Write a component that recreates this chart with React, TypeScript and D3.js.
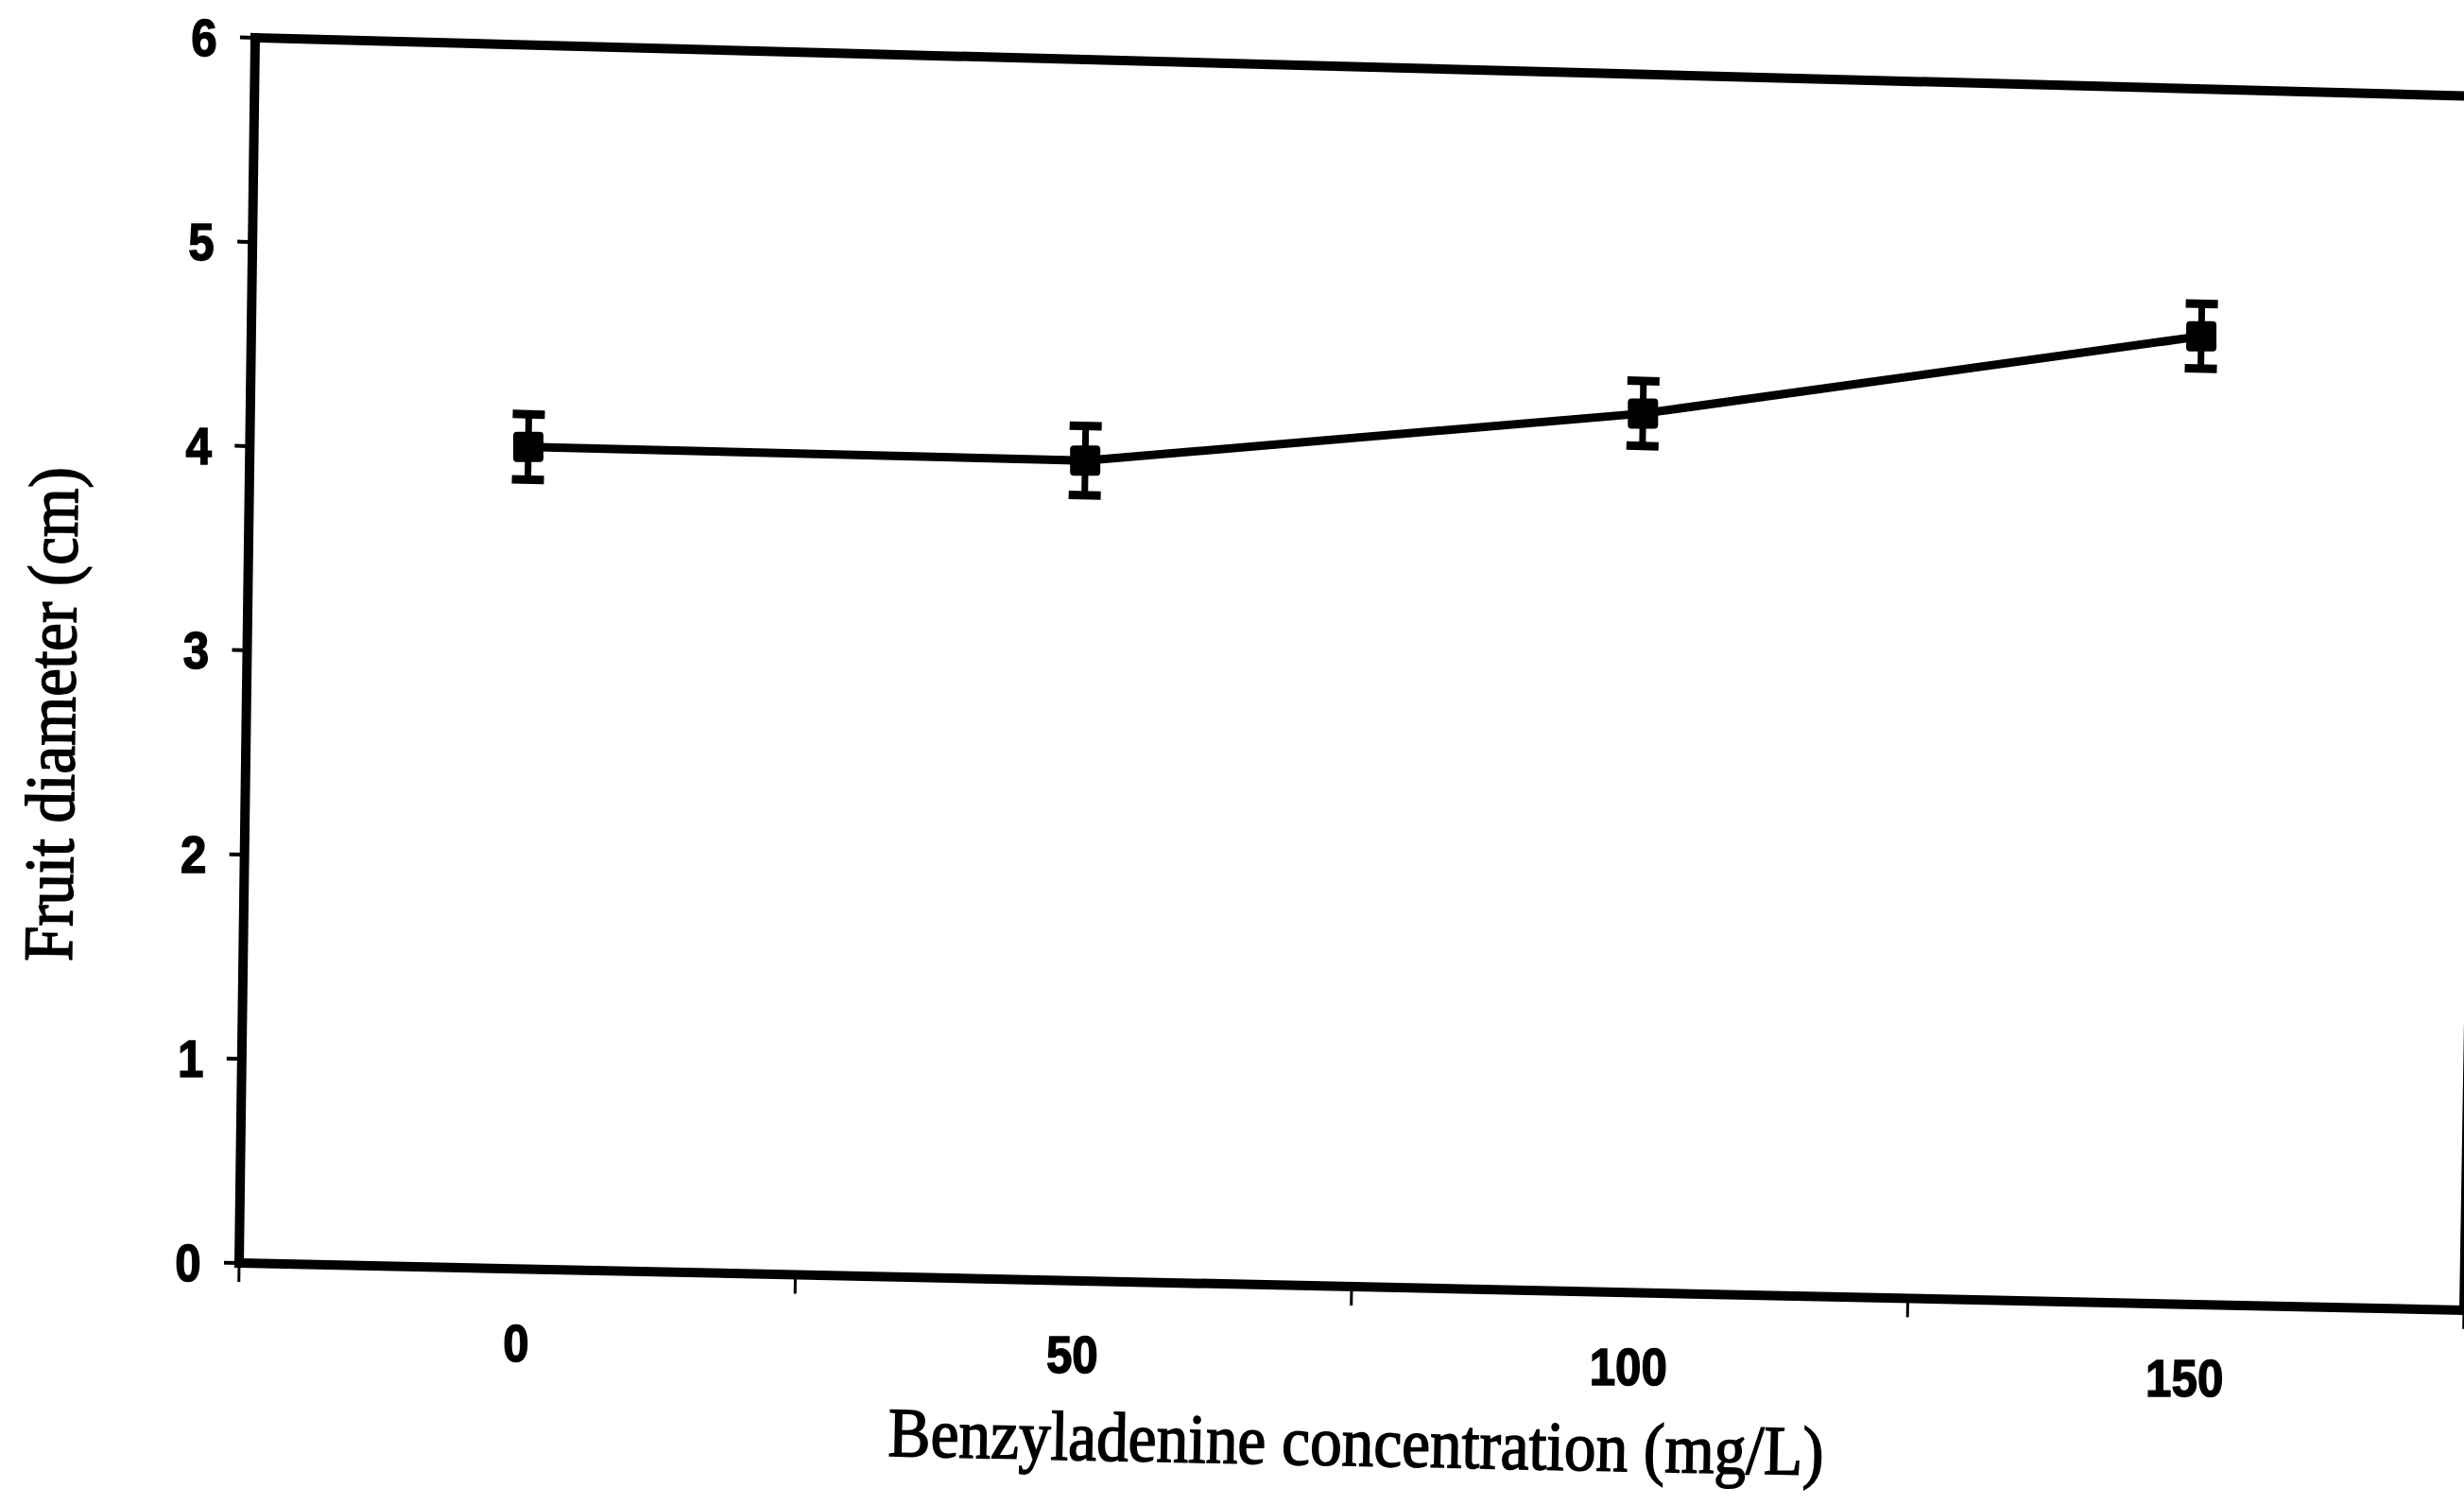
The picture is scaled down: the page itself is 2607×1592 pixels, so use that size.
import React from "react";
import * as d3 from "d3";

const categories = ["0", "50", "100", "150"];
const diameter = [4.03, 4.03, 4.33, 4.78];
const errors = [0.16, 0.17, 0.16, 0.16];
const yTicks = [0, 1, 2, 3, 4, 5, 6];
const xTitle = "Benzyladenine concentration (mg/L)";
const yTitle = "Fruit diameter (cm)";

const WIDTH = 2607;
const HEIGHT = 1592;
// local (unwarped) plot frame
const W = 2350;
const H = 1296;
// scanned-image corners of the plot frame (skewed scan)
const TL = [270, 40];
const TR = [2628, 102];
const BL = [253, 1336];
const BR = [2607, 1386];

function warp(u: number, v: number): [number, number] {
  const s = u / W;
  const t = v / H;
  const x = (1 - s) * (1 - t) * TL[0] + s * (1 - t) * TR[0] + (1 - s) * t * BL[0] + s * t * BR[0];
  const y = (1 - s) * (1 - t) * TL[1] + s * (1 - t) * TR[1] + (1 - s) * t * BL[1] + s * t * BR[1];
  return [x, y];
}
function angleAlong(u: number, v: number, du: number, dv: number) {
  const a = warp(u, v);
  const b = warp(u + du, v + dv);
  return (Math.atan2(b[1] - a[1], b[0] - a[0]) * 180) / Math.PI;
}
function seg(u1: number, v1: number, u2: number, v2: number) {
  const a = warp(u1, v1);
  const b = warp(u2, v2);
  return `M${a[0]},${a[1]}L${b[0]},${b[1]}`;
}

const tickFont = "'Liberation Sans Narrow', 'Arial Narrow', 'Liberation Sans', sans-serif";
const titleFont = "'Liberation Serif', 'Times New Roman', serif";

export default function App() {
  const x = d3.scaleBand<string>().domain(categories).range([0, W]).paddingInner(0).paddingOuter(0);
  const y = d3.scaleLinear().domain([0, 6]).range([H, 0]);
  const cx = (c: string) => (x(c) as number) + x.bandwidth() / 2;

  const pts = categories.map((c, i) => warp(cx(c), y(diameter[i])));
  const line = d3.line<[number, number]>().x((d) => d[0]).y((d) => d[1]);

  const frame = [
    seg(0, 0, W, 0),
    seg(W, 0, W, H),
    seg(0, H, W, H),
    seg(0, 0, 0, H),
  ];

  const boundaries = d3.range(categories.length + 1).map((i) => i * x.step());

  const xtPos = warp(1182, H + 190);
  const xtAng = angleAlong(1182, H + 190, 1, 0);
  const ytPos = warp(-181, 720);
  const ytAng = angleAlong(-181, 720, 0, -1);

  return (
    <svg
      width={WIDTH}
      height={HEIGHT}
      style={{ position: "absolute", left: 0, top: 0, background: "#fff" }}
    >
      <rect x={0} y={0} width={WIDTH} height={HEIGHT} fill="#fff" />
      {/* frame */}
      {frame.map((d, i) => (
        <path key={i} d={d} stroke="#000" strokeWidth={10} fill="none" strokeLinecap="square" />
      ))}
      {/* y ticks */}
      {yTicks.map((t) => (
        <path key={"yt" + t} d={seg(-16, y(t), 0, y(t))} stroke="#000" strokeWidth={4} />
      ))}
      {/* x ticks between categories */}
      {boundaries.map((b, i) => (
        <path key={"xt" + i} d={seg(b, H, b, H + 20)} stroke="#000" strokeWidth={3} />
      ))}
      {/* y tick labels */}
      {yTicks.map((t) => {
        const p = warp(-40, y(t) + 20);
        return (
          <text
            key={"yl" + t}
            transform={`translate(${p[0]},${p[1]}) scale(0.88,1)`}
            textAnchor="end"
            fontFamily={tickFont}
            fontWeight="bold"
            fontSize={56}
            stroke="#000"
            strokeWidth={1.5}
            fill="#000"
          >
            {t}
          </text>
        );
      })}
      {/* x tick labels */}
      {categories.map((c) => {
        const p = warp(cx(c), H + 98);
        return (
          <text
            key={"xl" + c}
            transform={`translate(${p[0]},${p[1]}) scale(0.88,1)`}
            textAnchor="middle"
            fontFamily={tickFont}
            fontWeight="bold"
            fontSize={56}
            stroke="#000"
            strokeWidth={1.5}
            fill="#000"
          >
            {c}
          </text>
        );
      })}
      {/* series line */}
      <path d={line(pts) as string} stroke="#000" strokeWidth={9} fill="none" strokeLinejoin="round" />
      {/* error bars */}
      {categories.map((c, i) => {
        const u = cx(c);
        const hi = y(diameter[i] + errors[i]);
        const lo = y(diameter[i] - errors[i]);
        const capHalf = 17 * (W / (TR[0] - TL[0]));
        return (
          <g key={"eb" + c}>
            <path d={seg(u, hi, u, lo)} stroke="#000" strokeWidth={7} />
            <path d={seg(u - capHalf, hi, u + capHalf, hi)} stroke="#000" strokeWidth={9} />
            <path d={seg(u - capHalf, lo, u + capHalf, lo)} stroke="#000" strokeWidth={9} />
          </g>
        );
      })}
      {/* markers */}
      {pts.map((p, i) => (
        <rect key={"m" + i} x={p[0] - 16} y={p[1] - 16} width={32} height={32} rx={4} fill="#000" />
      ))}
      {/* axis titles */}
      <text
        transform={`translate(${xtPos[0]},${xtPos[1]}) rotate(${xtAng})`}
        textAnchor="middle"
        fontFamily={titleFont}
        fontSize={74}
        textLength={990}
        lengthAdjust="spacingAndGlyphs"
        stroke="#000"
        strokeWidth={1.6}
        fill="#000"
      >
        {xTitle}
      </text>
      <text
        transform={`translate(${ytPos[0]},${ytPos[1]}) rotate(${ytAng})`}
        textAnchor="middle"
        fontFamily={titleFont}
        fontSize={74}
        textLength={523}
        lengthAdjust="spacingAndGlyphs"
        stroke="#000"
        strokeWidth={1.6}
        fill="#000"
      >
        {yTitle}
      </text>
    </svg>
  );
}
